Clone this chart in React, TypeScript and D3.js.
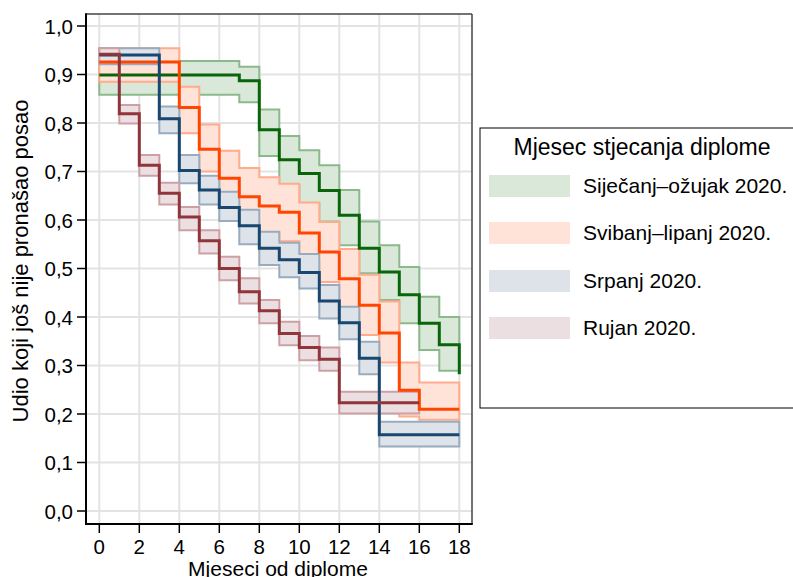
import React from "react";
import * as d3 from "d3";

// ---------- data ----------
const xTicks = [0, 2, 4, 6, 8, 10, 12, 14, 16, 18];
const yTicks = [0, 0.1, 0.2, 0.3, 0.4, 0.5, 0.6, 0.7, 0.8, 0.9, 1.0];

const seriesNames = ["Siječanj–ožujak 2020.", "Svibanj–lipanj 2020.", "Srpanj 2020.", "Rujan 2020."];

const greenTimes = [0, 7, 8, 9, 10, 11, 12, 13, 14, 15, 16, 17, 18];
const greenSurv = [0.899, 0.887, 0.786, 0.724, 0.696, 0.661, 0.61, 0.542, 0.493, 0.446, 0.387, 0.343, 0.282];
const greenUpper = [0.928, 0.916, 0.828, 0.773, 0.744, 0.713, 0.662, 0.597, 0.548, 0.503, 0.442, 0.4, 0.34];
const greenLower = [0.858, 0.843, 0.732, 0.672, 0.634, 0.597, 0.548, 0.49, 0.435, 0.387, 0.332, 0.289, 0.23];
const greenEnd = 18;

const orangeTimes = [0, 4, 5, 6, 7, 8, 9, 10, 11, 12, 13, 14, 15, 16];
const orangeSurv = [0.926, 0.832, 0.746, 0.686, 0.648, 0.629, 0.616, 0.573, 0.534, 0.479, 0.424, 0.367, 0.249, 0.21];
const orangeUpper = [0.954, 0.875, 0.797, 0.743, 0.707, 0.688, 0.675, 0.636, 0.596, 0.54, 0.487, 0.432, 0.306, 0.265];
const orangeLower = [0.885, 0.779, 0.7, 0.632, 0.594, 0.572, 0.556, 0.512, 0.472, 0.418, 0.363, 0.306, 0.195, 0.188];
const orangeEnd = 18;

const blueTimes = [0, 3, 4, 5, 6, 7, 8, 9, 10, 11, 12, 13, 14];
const blueSurv = [0.94, 0.809, 0.702, 0.662, 0.626, 0.588, 0.542, 0.518, 0.492, 0.433, 0.388, 0.315, 0.157];
const blueUpper = [0.954, 0.834, 0.734, 0.691, 0.658, 0.621, 0.576, 0.553, 0.53, 0.466, 0.421, 0.349, 0.184];
const blueLower = [0.921, 0.779, 0.676, 0.632, 0.598, 0.55, 0.507, 0.482, 0.459, 0.397, 0.354, 0.282, 0.133];
const blueEnd = 18;

const redTimes = [0, 1, 2, 3, 4, 5, 6, 7, 8, 9, 10, 11, 12];
const redSurv = [0.942, 0.819, 0.713, 0.655, 0.606, 0.557, 0.5, 0.452, 0.413, 0.366, 0.337, 0.313, 0.223];
const redUpper = [0.954, 0.837, 0.734, 0.677, 0.627, 0.579, 0.524, 0.48, 0.435, 0.39, 0.361, 0.337, 0.246];
const redLower = [0.925, 0.799, 0.691, 0.632, 0.579, 0.531, 0.476, 0.428, 0.387, 0.342, 0.311, 0.289, 0.201];
const redEnd = 16;

// ---------- styles ----------
const lineColors = ["#0a640a", "#ff4500", "#1a476f", "#90353b"];
const fillColors = ["#d9e8d9", "#ffe3d9", "#dde3e9", "#ecdfe1"];
const edgeColors = ["#8cb98c", "#ffab8c", "#98acbe", "#cca0a5"];

const FONT = "'Liberation Sans', Arial, Helvetica, sans-serif";

type Series = { times: number[]; surv: number[]; upper: number[]; lower: number[]; end: number };
const series: Series[] = [
  { times: greenTimes, surv: greenSurv, upper: greenUpper, lower: greenLower, end: greenEnd },
  { times: orangeTimes, surv: orangeSurv, upper: orangeUpper, lower: orangeLower, end: orangeEnd },
  { times: blueTimes, surv: blueSurv, upper: blueUpper, lower: blueLower, end: blueEnd },
  { times: redTimes, surv: redSurv, upper: redUpper, lower: redLower, end: redEnd },
];

export default function App() {
  const W = 793, H = 577;
  const frame = { left: 86, right: 472, top: 14, bottom: 524 };
  const x = d3.scaleLinear().domain([0, 18]).range([99.3, 459.3]);
  const y = d3.scaleLinear().domain([0, 1]).range([511, 26]);

  const line = d3
    .line<[number, number]>()
    .x((d) => x(d[0]))
    .y((d) => y(d[1]))
    .curve(d3.curveStepAfter);

  const area = d3
    .area<[number, number, number]>()
    .x((d) => x(d[0]))
    .y0((d) => y(d[1]))
    .y1((d) => y(d[2]))
    .curve(d3.curveStepAfter);

  const bandPaths = series.map((s) => {
    const pts: [number, number, number][] = [];
    s.times.forEach((t, i) => {
      if (t < s.end) pts.push([t, s.lower[i], s.upper[i]]);
    });
    const last = pts[pts.length - 1];
    pts.push([s.end, last[1], last[2]]);
    return area(pts) || "";
  });

  const linePaths = series.map((s) => {
    const pts: [number, number][] = s.times.map((t, i) => [t, s.surv[i]] as [number, number]);
    const last = pts[pts.length - 1];
    if (last[0] < s.end) pts.push([s.end, last[1]]);
    return line(pts) || "";
  });

  const fmt = (v: number) => v.toFixed(1).replace(".", ",");

  const legendX = 480, legendY = 128, legendW = 330, legendH = 280;
  const rowY = [186, 233, 281, 328];

  return (
    <svg width={W} height={H} style={{ position: "absolute", left: 0, top: 0, background: "#fff" }} fontFamily={FONT}>
      <rect x={0} y={0} width={W} height={H} fill="#fff" />
      {/* grid */}
      <g stroke="#e3e3e3" strokeWidth={2}>
        {xTicks.map((t) => (
          <line key={"gx" + t} x1={x(t)} x2={x(t)} y1={frame.top} y2={frame.bottom} />
        ))}
        {yTicks.map((t) => (
          <line key={"gy" + t} x1={frame.left} x2={frame.right} y1={y(t)} y2={y(t)} />
        ))}
      </g>
      {/* confidence bands */}
      {bandPaths.map((d, i) => (
        <path key={"b" + i} d={d} fill={fillColors[i]} stroke={edgeColors[i]} strokeWidth={2} />
      ))}
      {/* survival lines */}
      {linePaths.map((d, i) => (
        <path key={"l" + i} d={d} fill="none" stroke={lineColors[i]} strokeWidth={3} />
      ))}
      {/* frame */}
      <line x1={frame.left} x2={frame.right} y1={frame.top} y2={frame.top} stroke="#444" strokeWidth={1.5} />
      <line x1={frame.right} x2={frame.right} y1={frame.top} y2={frame.bottom} stroke="#444" strokeWidth={1.5} />
      <line x1={frame.left} x2={frame.left} y1={frame.top - 0.75} y2={frame.bottom + 1} stroke="#000" strokeWidth={2} />
      <line x1={frame.left - 1} x2={frame.right + 0.75} y1={frame.bottom} y2={frame.bottom} stroke="#000" strokeWidth={2} />
      {/* y ticks */}
      {yTicks.map((t) => (
        <g key={"yt" + t}>
          <line x1={frame.left - 9} x2={frame.left} y1={y(t)} y2={y(t)} stroke="#000" strokeWidth={1.5} />
          <text x={73} y={y(t) + 7.5} textAnchor="end" fontSize={20.5} fill="#000">
            {fmt(t)}
          </text>
        </g>
      ))}
      {/* x ticks */}
      {xTicks.map((t) => (
        <g key={"xt" + t}>
          <line x1={x(t)} x2={x(t)} y1={frame.bottom} y2={frame.bottom + 9} stroke="#000" strokeWidth={1.5} />
          <text x={x(t)} y={554} textAnchor="middle" fontSize={20.5} fill="#000">
            {t}
          </text>
        </g>
      ))}
      {/* axis titles */}
      <text x={278} y={576} textAnchor="middle" fontSize={21} fill="#000">
        Mjeseci od diplome
      </text>
      <text
        transform={`translate(28, 261) rotate(-90)`}
        textAnchor="middle"
        fontSize={22}
        fill="#000"
      >
        Udio koji još nije pronašao posao
      </text>
      {/* legend */}
      <rect x={legendX} y={legendY} width={legendW} height={legendH} fill="#fff" stroke="#000" strokeWidth={1} />
      <text x={642} y={155} textAnchor="middle" fontSize={23} fill="#000">
        Mjesec stjecanja diplome
      </text>
      {seriesNames.map((name, i) => (
        <g key={"lg" + i}>
          <rect x={489} y={rowY[i] - 11} width={81} height={22} fill={fillColors[i]} />
          <text x={583} y={rowY[i] + 7} fontSize={21} fill="#000">
            {name}
          </text>
        </g>
      ))}
    </svg>
  );
}
